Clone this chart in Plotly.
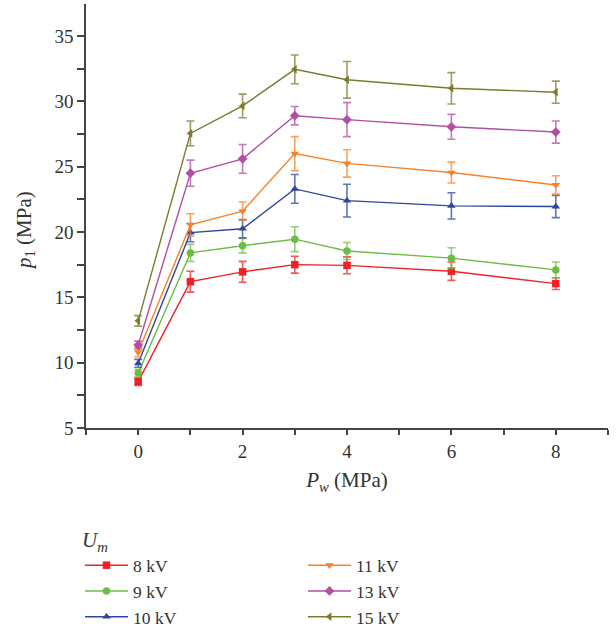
import plotly.graph_objects as go

pw = [0, 1, 2, 3, 4, 6, 8]

labels = ["8 kV", "9 kV", "10 kV", "11 kV", "13 kV", "15 kV"]
p1_8 = [8.55, 16.2, 16.95, 17.5, 17.45, 17.0, 16.05]
p1_9 = [9.2, 18.4, 18.95, 19.45, 18.55, 18.0, 17.1]
p1_10 = [9.95, 19.95, 20.25, 23.3, 22.4, 22.0, 21.95]
p1_11 = [10.8, 20.55, 21.6, 26.0, 25.25, 24.55, 23.6]
p1_13 = [11.35, 24.5, 25.6, 28.9, 28.6, 28.05, 27.65]
p1_15 = [13.2, 27.55, 29.65, 32.45, 31.65, 31.0, 30.7]

err_8 = [0.3, 0.8, 0.8, 0.65, 0.65, 0.7, 0.45]
err_9 = [0.3, 0.65, 0.55, 0.95, 0.65, 0.8, 0.6]
err_10 = [0.3, 0.7, 0.7, 1.1, 1.25, 1.0, 0.85]
err_11 = [0.35, 0.85, 0.7, 1.3, 1.05, 0.8, 0.7]
err_13 = [0.3, 1.0, 1.1, 0.7, 1.3, 0.95, 0.85]
err_15 = [0.4, 0.95, 0.9, 1.1, 1.4, 1.2, 0.85]

series = [p1_8, p1_9, p1_10, p1_11, p1_13, p1_15]
errors = [err_8, err_9, err_10, err_11, err_13, err_15]
colors = ["#ec2227", "#6dbd45", "#2d479b", "#f6822a", "#b24fa3", "#7c7a2c"]
err_colors = ["rgba(236,34,39,0.75)", "rgba(109,189,69,0.75)", "rgba(45,71,155,0.75)",
              "rgba(246,130,42,0.75)", "rgba(178,79,163,0.75)", "rgba(124,122,44,0.75)"]
symbols = ["square", "circle", "triangle-up", "triangle-down", "diamond", "triangle-left"]
ranks = [1, 3, 5, 2, 4, 6]

FONT = "Liberation Serif"

fig = go.Figure()
for lab, y, e, c, ec, s, r in zip(labels, series, errors, colors, err_colors, symbols, ranks):
    fig.add_trace(go.Scatter(
        x=pw, y=y, name=lab, mode="lines+markers",
        line=dict(color=c, width=1.4),
        marker=dict(symbol=s, size=7.5, color=c),
        error_y=dict(type="data", array=e, visible=True, color=ec, thickness=1.6, width=4),
        legendrank=r,
    ))

fig.update_layout(
    width=616, height=635,
    margin=dict(l=86, r=8, t=4, b=207),
    plot_bgcolor="white", paper_bgcolor="white",
    font=dict(family=FONT, size=18, color="#333333"),
    showlegend=True,
    legend=dict(
        orientation="h", xref="container", yref="container",
        x=80 / 616, xanchor="left", y=(635 - 520) / 635, yanchor="top",
        entrywidth=165, entrywidthmode="pixels",
        title=dict(text="<i>U</i><sub><i>m</i></sub>", side="top", font=dict(size=21)),
        font=dict(family=FONT, size=17.5, color="#333333"),
        tracegroupgap=0, itemwidth=43,
    ),
    xaxis=dict(
        range=[-1, 9], tickvals=[0, 2, 4, 6, 8], ticks="outside", ticklen=5, tickwidth=1.5,
        tickcolor="#444", showline=True, linecolor="#444", linewidth=1.6,
        showgrid=False, zeroline=False,
        minor=dict(tickvals=[-1, 1, 3, 5, 7, 9], ticks="outside", ticklen=5, tickwidth=1.5, tickcolor="#444"),
        title=dict(text="<i>P</i><sub><i>w</i></sub> (MPa)", standoff=12, font=dict(size=21)),
        tickfont=dict(size=19),
    ),
    yaxis=dict(
        range=[5, 37.45], tickvals=[5, 10, 15, 20, 25, 30, 35], ticks="outside", ticklen=7, tickwidth=1.5,
        tickcolor="#444", showline=True, linecolor="#444", linewidth=1.6,
        showgrid=False, zeroline=False,
        minor=dict(tickvals=[7.5, 12.5, 17.5, 22.5, 27.5, 32.5], ticks="outside", ticklen=7, tickwidth=1.5, tickcolor="#444"),
        tickfont=dict(size=19),
    ),
    annotations=[dict(
        text="<i>p</i><sub>1</sub> (MPa)", textangle=-90, showarrow=False,
        xref="paper", yref="paper", x=(25 - 86) / 522, y=(428 - 231) / 424,
        xanchor="center", yanchor="middle", font=dict(size=21, family=FONT, color="#333333"),
    )],
)

fig.write_html("out.html")
